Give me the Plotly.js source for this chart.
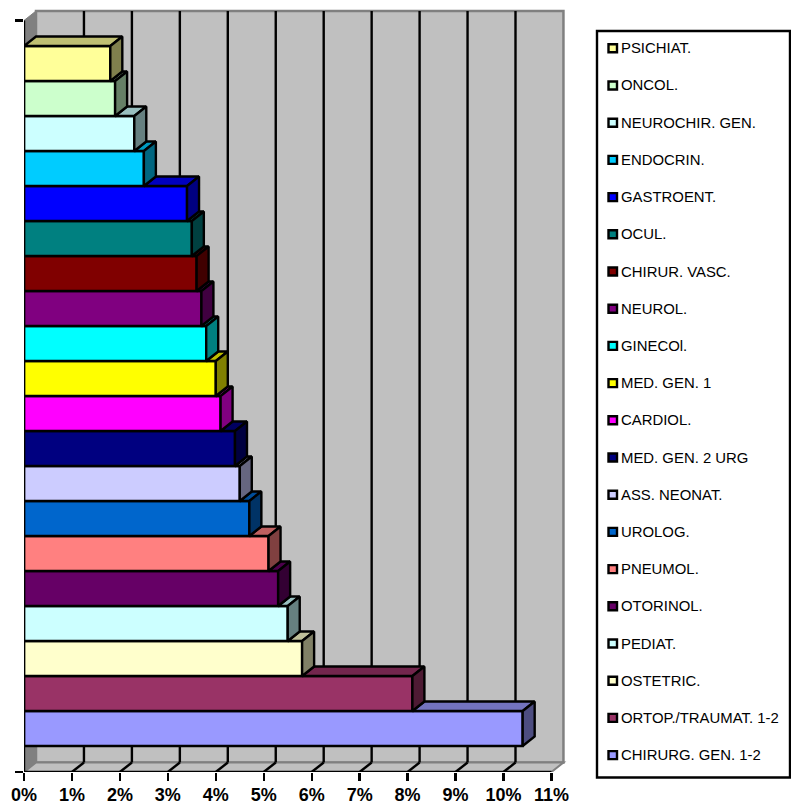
<!DOCTYPE html>
<html><head><meta charset="utf-8">
<script src="https://cdn.plot.ly/plotly-3.0.1.min.js"></script>
<style>html,body{margin:0;padding:0;background:#fff}</style></head>
<body><div id="chart" style="width:791px;height:805px"></div>
<script>
const categories = ["CHIRURG. GEN. 1-2","ORTOP./TRAUMAT. 1-2","OSTETRIC.","PEDIAT.","OTORINOL.","PNEUMOL.","UROLOG.","ASS. NEONAT.","MED. GEN. 2 URG","CARDIOL.","MED. GEN. 1","GINECOl.","NEUROL.","CHIRUR. VASC.","OCUL.","GASTROENT.","ENDOCRIN.","NEUROCHIR. GEN.","ONCOL.","PSICHIAT."];
const values = [10.4,8.1,5.8,5.5,5.3,5.1,4.7,4.5,4.4,4.1,4.0,3.8,3.7,3.6,3.5,3.4,2.5,2.3,1.9,1.8];
const colors = ["#9999FF","#993366","#FFFFCC","#CCFFFF","#660066","#FF8080","#0066CC","#CCCCFF","#000080","#FF00FF","#FFFF00","#00FFFF","#800080","#800000","#008080","#0000FF","#00CCFF","#CCFFFF","#CCFFCC","#FFFF99"];
const xTicks = [0,1,2,3,4,5,6,7,8,9,10,11];

const W=791,H=805, pxX=47.95, pxY=35;
const xL=24, xR=580, yB=772, yT=5, y0px=728.5;
const dx=12/pxX, dy=9.5/pxY;
const yAt=p=>(y0px-p)/pxY;
const shade=(c,f)=>{const n=parseInt(c.slice(1),16);return `rgb(${Math.round((n>>16&255)*f)},${Math.round((n>>8&255)*f)},${Math.round((n&255)*f)})`;};
const px=x=>x/W, py=y=>1-y/H;
const LW=2.4;

const yMin=yAt(yB), yFrontTop=yAt(20.5), xMax=11;
const poly=pts=>'M'+pts.map(p=>p.join(',')).join('L')+'Z';
const shapes=[];
// walls and floor
shapes.push({type:'path',layer:'below',xref:'x',yref:'y',path:poly([[dx,yMin+dy],[xMax+dx,yMin+dy],[xMax+dx,yFrontTop+dy],[dx,yFrontTop+dy]]),fillcolor:'#C0C0C0',line:{color:'#808080',width:2.5}});
shapes.push({type:'path',layer:'below',xref:'x',yref:'y',path:poly([[0,yMin],[dx,yMin+dy],[dx,yFrontTop+dy],[0,yFrontTop]]),fillcolor:'#808080',line:{color:'#808080',width:1}});
shapes.push({type:'path',layer:'below',xref:'x',yref:'y',path:poly([[0,yMin],[dx,yMin+dy],[xMax+dx,yMin+dy],[xMax,yMin]]),fillcolor:'#C0C0C0',line:{color:'#808080',width:2}});
// gridlines on wall and floor
xTicks.slice(1,-1).forEach(t=>{
  shapes.push({type:'line',layer:'below',xref:'x',yref:'y',x0:t+dx,x1:t+dx,y0:yMin+dy,y1:yFrontTop+dy,line:{color:'#000',width:LW}});
  shapes.push({type:'line',layer:'below',xref:'x',yref:'y',x0:t,x1:t+dx,y0:yMin,y1:yMin+dy,line:{color:'#000',width:LW}});
});
// axis lines
shapes.push({type:'line',layer:'above',xref:'x',yref:'y',x0:0,x1:xMax,y0:yMin,y1:yMin,line:{color:'#000',width:LW}});
shapes.push({type:'line',layer:'above',xref:'x',yref:'y',x0:0,x1:0,y0:yMin,y1:yFrontTop,line:{color:'#000',width:LW}});

const traces=[{type:'bar',orientation:'h',y:categories.map((_,i)=>i),x:values,width:1,cliponaxis:false,
  marker:{color:colors,line:{color:'#000',width:LW}},hoverinfo:'skip',showlegend:false}];
const face=(pts,color)=>({type:'scatter',mode:'lines',x:pts.map(p=>p[0]).concat(pts[0][0]),y:pts.map(p=>p[1]).concat(pts[0][1]),fill:'toself',fillcolor:color,line:{color:'#000',width:LW},hoverinfo:'skip',showlegend:false,cliponaxis:false});
values.forEach((v,i)=>{
  const top=i+0.5, bot=i-0.5, start=i<values.length-1?values[i+1]:0;
  traces.push(face([[start,top],[v,top],[v+dx,top+dy],[start+dx,top+dy]],shade(colors[i],0.75)));
  traces.push(face([[v,bot],[v+dx,bot+dy],[v+dx,top+dy],[v,top]],shade(colors[i],0.5)));
});

// legend panel
const legendTop=48.3, legendStep=37.2;
shapes.push({type:'rect',layer:'above',xref:'paper',yref:'paper',x0:px(597),x1:px(790),y0:py(31),y1:py(777.5),line:{color:'#000',width:2.4},fillcolor:'#fff'});
const annotations=[];
for(let k=0;k<categories.length;k++){
  const i=categories.length-1-k, cy=legendTop+k*legendStep;
  shapes.push({type:'rect',layer:'above',xref:'paper',yref:'paper',x0:px(608.5),x1:px(617),y0:py(cy+4),y1:py(cy-4),fillcolor:colors[i],line:{color:'#000',width:2.4}});
  annotations.push({xref:'paper',yref:'paper',x:px(620),y:py(cy),xanchor:'left',yanchor:'middle',showarrow:false,text:categories[i],borderpad:0,font:{family:'"Liberation Sans",Arial,sans-serif',size:14.9,color:'#000'}});
}

const layout={width:W,height:H,margin:{l:0,r:0,t:0,b:0},paper_bgcolor:'#fff',plot_bgcolor:'rgba(0,0,0,0)',showlegend:false,bargap:0,
  xaxis:{domain:[px(xL),px(xR)],range:[0,(xR-xL)/pxX],tickmode:'array',tickvals:xTicks,ticktext:xTicks.map(t=>t+'%'),tickangle:0,ticks:'outside',ticklen:8,tickwidth:LW,tickcolor:'#000',ticklabelstandoff:-2,showgrid:false,zeroline:false,showline:false,automargin:false,fixedrange:true,
    tickfont:{family:'"Liberation Sans",Arial,sans-serif',size:18,color:'#000',weight:'bold'}},
  yaxis:{domain:[py(yB),py(yT)],range:[yAt(yB),yAt(yT)],tickmode:'array',tickvals:[yAt(yB),yFrontTop],showticklabels:false,ticks:'outside',ticklen:8,tickwidth:LW,tickcolor:'#000',showgrid:false,zeroline:false,showline:false,automargin:false,fixedrange:true},
  shapes,annotations};
Plotly.newPlot('chart',traces,layout,{displayModeBar:false,staticPlot:true});
</script></body></html>
